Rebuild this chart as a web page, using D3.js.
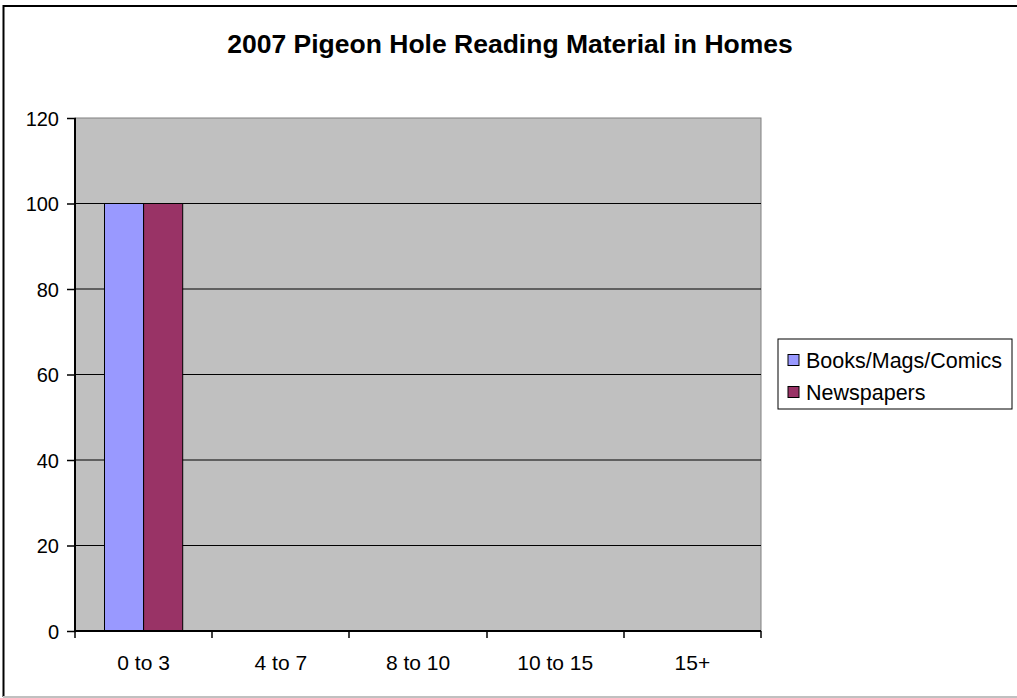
<!DOCTYPE html>
<html>
<head>
<meta charset="utf-8">
<script src="https://cdn.jsdelivr.net/npm/d3@7"></script>
<style>
body { margin:0; background:#fff; }
text { font-family: "Liberation Sans", Arial, sans-serif; }
</style>
</head>
<body>
<div id="canvas"></div>
<script>
var categories = ['0 to 3', '4 to 7', '8 to 10', '10 to 15', '15+'];
var seriesNames = ['Books/Mags/Comics', 'Newspapers'];
var books = [100, 0, 0, 0, 0];
var newspapers = [100, 0, 0, 0, 0];
var yTicks = [0, 20, 40, 60, 80, 100, 120];
var colors = ['#9999ff', '#993366'];

var W = 1017, H = 698;
var m = {t:118, l:75, r:W-761, b:H-631};
var w = W - m.l - m.r, h = H - m.t - m.b;

var svg = d3.select('#canvas').append('svg')
    .attr('width', W).attr('height', H);

// outer chart frame (cropped on the right)
svg.append('path')
    .attr('d', 'M1030,6 H3.5 V697')
    .style('fill','none').style('stroke','#000').style('stroke-width',2);
svg.append('line').attr('x1',3).attr('x2',W).attr('y1',697).attr('y2',697)
    .style('stroke','#c0c0c0').style('stroke-width',2);

svg.append('text')
    .attr('x', 510).attr('y', 53)
    .attr('text-anchor','middle')
    .style('font-size','26.5px').style('font-weight','bold')
    .text('2007 Pigeon Hole Reading Material in Homes');

var plot = svg.append('g').attr('transform','translate('+m.l+','+m.t+')');

var x = d3.scaleBand().domain(categories).range([0, w]);
var y = d3.scaleLinear().domain([0, 120]).range([h, 0]);

plot.append('rect').attr('width', w).attr('height', h)
    .style('fill','#c0c0c0').style('stroke','#808080');

// gridlines
plot.selectAll('.grid').data(yTicks.filter(function(d){ return d > 0 && d < 120; }))
    .enter().append('line').attr('class','grid')
    .attr('x1',0).attr('x2',w)
    .attr('y1',function(d){ return y(d); }).attr('y2',function(d){ return y(d); })
    .style('stroke','#000').style('stroke-width',1);

// bars
var data = categories.map(function(c,i){ return {cat:c, vals:[books[i], newspapers[i]]}; });
var bw = x.bandwidth() * 0.285;
var groups = plot.selectAll('.grp').data(data).enter().append('g')
    .attr('transform', function(d){ return 'translate('+(x(d.cat) + x.bandwidth()/2)+',0)'; });
groups.selectAll('rect').data(function(d){ return d.vals; }).enter().append('rect')
    .filter(function(v){ return v > 0; })
    .attr('x', function(v,i){ return (i-1)*bw; })
    .attr('width', bw)
    .attr('y', function(v){ return y(v); })
    .attr('height', function(v){ return h - y(v); })
    .style('fill', function(v,i){ return colors[i]; })
    .style('stroke','#000').style('stroke-width',1);

// y axis
var yAxis = plot.append('g').call(d3.axisLeft(y).tickValues(yTicks).tickSize(8).tickPadding(8));
yAxis.select('.domain').attr('d','M0,0V'+h).style('stroke-width',2);
yAxis.selectAll('text').style('font-size','20px').style('fill','#000')
    .attr('dy','0.35em');
yAxis.selectAll('line').attr('x1',1).style('stroke-width',1.5);

// x axis
var xAxis = plot.append('g').attr('transform','translate(0,'+h+')')
    .call(d3.axisBottom(x).tickSize(0).tickPadding(24));
xAxis.select('.domain').attr('d','M0,0H'+w).style('stroke-width',2);
xAxis.selectAll('text').style('font-size','21px').style('fill','#000');
xAxis.selectAll('.sep').data(d3.range(categories.length+1)).enter().append('line')
    .attr('class','sep')
    .attr('x1',function(i){ return Math.round(i*x.step()); })
    .attr('x2',function(i){ return Math.round(i*x.step()); })
    .attr('y1',0).attr('y2',7)
    .style('stroke','#000').style('stroke-width',1.5);

// legend
var lg = svg.append('g').attr('transform','translate(778,339)');
lg.append('rect').attr('width',234).attr('height',70)
    .style('fill','#fff').style('stroke','#000').style('stroke-width',1);
var items = lg.selectAll('.item').data(seriesNames).enter().append('g')
    .attr('transform',function(d,i){ return 'translate(10,'+(21+i*32)+')'; });
items.append('rect').attr('x',0).attr('y',-5.5).attr('width',11).attr('height',11)
    .style('fill',function(d,i){ return colors[i]; }).style('stroke','#000');
items.append('text').attr('x',18).attr('dy','0.36em')
    .style('font-size','21.5px').text(function(d){ return d; });
</script>
</body>
</html>
